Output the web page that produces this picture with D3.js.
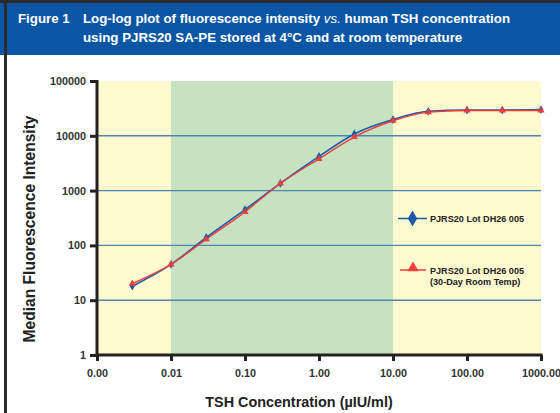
<!DOCTYPE html>
<html><head><meta charset="utf-8">
<script src="https://cdn.jsdelivr.net/npm/d3@7"></script>
<style>
body{margin:0;background:#fff;}
svg{display:block;font-family:"Liberation Sans",Arial,Helvetica,sans-serif;}
</style></head>
<body><svg id="c" width="560" height="413"></svg>
<script>
const concentrations = [0.003, 0.01, 0.03, 0.1, 0.3, 1, 3, 10, 30, 100, 300, 1000];
const lotFresh = [18, 45, 140, 450, 1350, 4200, 10800, 19800, 28000, 29500, 29500, 30000];
const lotRoomTemp = [20, 45, 130, 410, 1350, 3800, 9500, 18800, 27000, 29000, 29000, 29000];
const xTicks = [0.001, 0.01, 0.1, 1, 10, 100, 1000];
const xTickLabels = ["0.00", "0.01", "0.10", "1.00", "10.00", "100.00", "1000.00"];
const yTicks = [1, 10, 100, 1000, 10000, 100000];
const gridValues = [10, 100, 1000, 10000];
const bands = [[0.001, 0.01, "yellow"], [0.01, 10, "green"], [10, 1000, "yellow"]];
const seriesNames = ["PJRS20 Lot DH26 005", "PJRS20 Lot DH26 005"];

const svg = d3.select("#c");
const L = 97, R = 541, T = 81, B = 355;
const x = d3.scaleLog().domain([0.001, 1000]).range([L, R]);
const y = d3.scaleLog().domain([1, 100000]).range([B, T]);
const bandColor = {yellow: "#fff9cf", green: "#c6e2c1"};

// Header band
svg.append("rect").attr("x", 0).attr("y", 0).attr("width", 560).attr("height", 3).attr("fill", "#2a2a2a");
svg.append("rect").attr("x", 0).attr("y", 3).attr("width", 560).attr("height", 52).attr("fill", "#0a56a5");
svg.append("rect").attr("x", 4).attr("y", 0).attr("width", 3).attr("height", 413).attr("fill", "#2a2a2a");

const title = svg.append("g").attr("fill", "#fff").attr("font-weight", "bold").attr("font-size", 13.3);
title.append("text").attr("x", 18).attr("y", 23).text("Figure 1");
const t1 = title.append("text").attr("x", 83).attr("y", 23);
t1.append("tspan").text("Log-log plot of fluorescence intensity ");
t1.append("tspan").attr("font-style", "italic").attr("font-weight", "normal").text("vs.");
t1.append("tspan").text(" human TSH concentration");
title.append("text").attr("x", 83).attr("y", 42).text("using PJRS20 SA-PE stored at 4°C and at room temperature");

// Background bands
svg.append("g").selectAll("rect").data(bands).join("rect")
  .attr("x", d => x(d[0])).attr("width", d => x(d[1]) - x(d[0]))
  .attr("y", T).attr("height", B - T)
  .attr("fill", d => bandColor[d[2]]);

// Grid lines
svg.append("g").selectAll("line").data(gridValues).join("line")
  .attr("x1", L).attr("x2", R).attr("y1", d => y(d)).attr("y2", d => y(d))
  .attr("stroke", "#4f86ad").attr("stroke-width", 1.4);

// Axes
const yAxis = d3.axisLeft(y).tickValues(yTicks).tickFormat(d3.format("d")).tickSize(7).tickPadding(4);
const gy = svg.append("g").attr("transform", `translate(${L},0)`).call(yAxis);
const xAxis = d3.axisBottom(x).tickValues(xTicks).tickFormat((d, i) => xTickLabels[i]).tickSize(6).tickPadding(8);
const gx = svg.append("g").attr("transform", `translate(0,${B})`).call(xAxis);
[gx, gy].forEach(g => {
  g.select(".domain").remove();
  g.selectAll(".tick line").attr("stroke", "#222").attr("stroke-width", 3);
  g.selectAll("text").attr("fill", "#333").attr("font-weight", "bold").attr("font-size", 10.8)
    .attr("font-family", "Liberation Sans, Arial, sans-serif");
});
svg.append("line").attr("x1", L).attr("x2", L).attr("y1", T - 1).attr("y2", B + 1.5).attr("stroke", "#222").attr("stroke-width", 3);
svg.append("line").attr("x1", L - 1.5).attr("x2", R + 1.5).attr("y1", B).attr("y2", B).attr("stroke", "#222").attr("stroke-width", 3);

// Axis titles
svg.append("text").attr("transform", `translate(35,229) rotate(-90)`)
  .attr("text-anchor", "middle").attr("font-weight", "bold").attr("font-size", 15.6).attr("fill", "#222")
  .text("Median Fluorescence Intensity");
svg.append("text").attr("x", 299).attr("y", 407).attr("text-anchor", "middle")
  .attr("font-weight", "bold").attr("font-size", 14.4).attr("fill", "#222")
  .text("TSH Concentration (µIU/ml)");

// Series
const line = d3.line().x(d => x(d[0])).y(d => y(d[1])).curve(d3.curveMonotoneX);
const blueC = "#1a5aa8", redC = "#ec3f3c";
const dBlue = concentrations.map((c, i) => [c, lotFresh[i]]);
const dRed = concentrations.map((c, i) => [c, lotRoomTemp[i]]);
svg.append("path").datum(dBlue).attr("d", line).attr("fill", "none").attr("stroke", blueC).attr("stroke-width", 1.6);
svg.append("path").datum(dRed).attr("d", line).attr("fill", "none").attr("stroke", redC).attr("stroke-width", 1.4);
const diamond = d3.symbol().type(d3.symbolDiamond).size(22);
const tri = d3.symbol().type(d3.symbolTriangle).size(22);
svg.append("g").selectAll("path").data(dBlue).join("path")
  .attr("transform", d => `translate(${x(d[0])},${y(d[1])})`).attr("d", diamond).attr("fill", blueC);
svg.append("g").selectAll("path").data(dRed).join("path")
  .attr("transform", d => `translate(${x(d[0])},${y(d[1])})`).attr("d", tri).attr("fill", redC);

// Legend
const lg = svg.append("g").attr("font-weight", "bold").attr("font-size", 9.1).attr("fill", "#222");
lg.append("line").attr("x1", 398).attr("x2", 427).attr("y1", 218.5).attr("y2", 218.5).attr("stroke", blueC).attr("stroke-width", 1.5);
lg.append("path").attr("transform", "translate(412.5,218.5)").attr("d", d3.symbol().type(d3.symbolDiamond).size(75)).attr("fill", blueC);
lg.append("text").attr("x", 430).attr("y", 222).text(seriesNames[0]);
lg.append("line").attr("x1", 400).attr("x2", 426).attr("y1", 270).attr("y2", 270).attr("stroke", redC).attr("stroke-width", 1.5);
lg.append("path").attr("transform", "translate(413,268)").attr("d", d3.symbol().type(d3.symbolTriangle).size(55)).attr("fill", redC);
lg.append("text").attr("x", 430).attr("y", 273.5).text(seriesNames[1]);
lg.append("text").attr("x", 430).attr("y", 284.5).text("(30-Day Room Temp)");
</script></body></html>
